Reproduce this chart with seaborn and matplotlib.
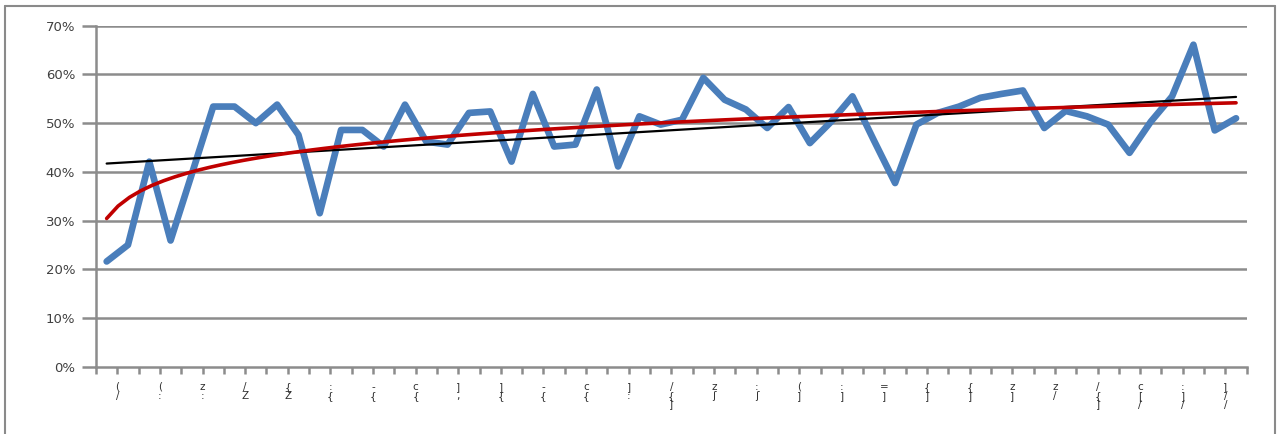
import numpy as np
import pandas as pd
import matplotlib
matplotlib.use("Agg")
import matplotlib.pyplot as plt
from matplotlib.lines import Line2D
from matplotlib.ticker import FuncFormatter
import seaborn as sns

# ---- data ----
values = [0.216, 0.250, 0.421, 0.259, 0.396, 0.534, 0.534, 0.500, 0.538, 0.476,
          0.315, 0.486, 0.486, 0.452, 0.538, 0.462, 0.456, 0.521, 0.524, 0.421,
          0.560, 0.452, 0.456, 0.569, 0.411, 0.514, 0.497, 0.507, 0.593, 0.548,
          0.528, 0.490, 0.533, 0.459, 0.503, 0.555, 0.465, 0.377, 0.497, 0.521,
          0.534, 0.552, 0.560, 0.567, 0.490, 0.525, 0.514, 0.497, 0.439, 0.503,
          0.555, 0.661, 0.485, 0.510]
periods = list(range(1, len(values) + 1))

# garbled (clipped, rotated) category labels as they appear in the reference
tick_labels = ["(\n/", "(\n:", "z\n:", "/\nZ", "{\nZ", ":\n{", "-\n{", "c\n{", "]\n,",
               "]\n{", "-\n{", "c\n{", "]\n:", "/\n{\n]", "z\nʃ", ":\nʃ", "(\n]",
               ":\n]", "=\n]", "{\n]", "{\n]", "z\n]", "z\n/", "/\n{\n]", "c\n[\n/",
               ":\n]\n/", "]\n/\n/"]
y_ticks = [0, 0.1, 0.2, 0.3, 0.4, 0.5, 0.6, 0.7]

df = pd.DataFrame({"period": periods, "share": values})

W, H = 1281, 434
fig = plt.figure(figsize=(W / 100, H / 100), dpi=100)
sns.set_style("white")
plt.rcParams['font.family'] = ['DejaVu Sans']
ax = fig.add_axes([96 / W, 1 - 366.7 / H, (1246.7 - 96) / W, (366.7 - 25.7) / H])

grid_c = "#8c8c8c"
for yv in y_ticks[1:]:
    ax.axhline(yv, color=grid_c, lw=1.8, zorder=0)

sns.lineplot(data=df, x="period", y="share", ax=ax, color="#4a7ebb", lw=4.8,
             solid_joinstyle="round", zorder=3)
sns.regplot(data=df, x="period", y="share", ax=ax, scatter=False, ci=None,
            truncate=True, color="black", line_kws={"lw": 1.6, "zorder": 4})
sns.regplot(data=df, x="period", y="share", ax=ax, scatter=False, ci=None,
            logx=True, truncate=True, color="#c00000", line_kws={"lw": 2.6, "zorder": 5})

n = len(values)
ax.set_xlim(0.5, n + 0.5)
ax.set_ylim(0, 0.7)
ax.set_xlabel("")
ax.set_ylabel("")

ax.set_yticks(y_ticks)
ax.yaxis.set_major_formatter(FuncFormatter(lambda v, p: f"{v*100:.0f}%"))
ax.tick_params(axis="y", length=10, width=1.8, color=grid_c, labelsize=9.5,
               labelcolor="#404040", pad=5, left=True)

label_pos = [1.5 + 2 * i for i in range(len(tick_labels))]
ax.set_xticks(label_pos)
ax.set_xticklabels(tick_labels, fontsize=7.5, linespacing=0.85, color="#303030")
ax.set_xticks([0.5 + i for i in range(n + 1)], minor=True)
ax.tick_params(axis="x", which="both", length=5, width=1.8, color=grid_c,
               bottom=True, pad=6)

for s in ["top", "right"]:
    ax.spines[s].set_visible(False)
for s in ["left", "bottom"]:
    ax.spines[s].set_color(grid_c)
    ax.spines[s].set_linewidth(1.8)
ax.set_facecolor("none")

# outer chart-area frame
fc = "#8a8a8a"
fig.add_artist(Line2D([5 / W, 5 / W], [0, 1 - 6 / H], color=fc, lw=1.5))
fig.add_artist(Line2D([5 / W, 1275 / W], [1 - 6 / H, 1 - 6 / H], color=fc, lw=1.5))
fig.add_artist(Line2D([1275 / W, 1275 / W], [0, 1 - 6 / H], color=fc, lw=1.5))

fig.savefig("out.png", dpi=100)
